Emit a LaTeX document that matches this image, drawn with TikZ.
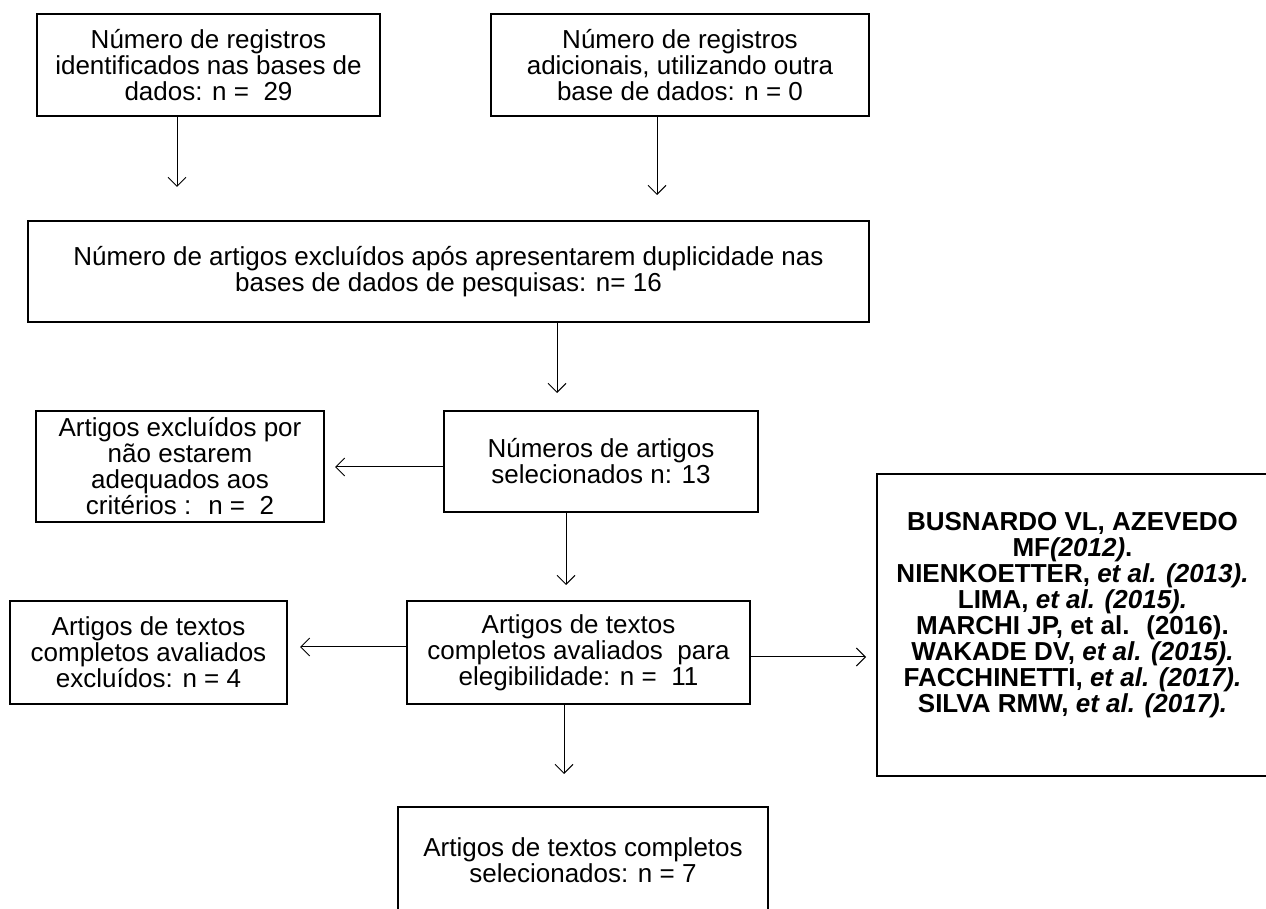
\documentclass[tikz,border=0pt]{standalone}
\usepackage{fontspec}
\setmainfont{Liberation Sans}
\usetikzlibrary{positioning,arrows.meta}
\tikzset{
  flow/.style={-{Straight Barb[length=4.5pt,width=9pt]},line width=0.5pt,draw=black},
  box/.style={draw=black,line width=1pt,align=center,inner sep=0pt,
    font=\fontsize{13}{13}\selectfont},
  refbox/.style={box,font=\fontsize{13}{13}\selectfont\bfseries}
}
\begin{document}
\begin{tikzpicture}[x=0.5pt,y=-0.5pt]
  \useasboundingbox (0,0) rectangle (1266,909);
  % identification
  \node[box,minimum width=171.5pt,minimum height=51pt] (reg1) at (208.5,65) {
    Número de registros\\
    identificados nas bases de\\
    dados: n =~ 29
  };
  \node[box,minimum width=189pt,minimum height=51pt] (reg2) at (680,65) {
    Número de registros\\
    adicionais, utilizando outra\\
    base de dados: n = 0
  };
  \node[box,minimum width=420.5pt,minimum height=50.5pt] (dup) at (448.5,271.5) {
    Número de artigos excluídos após apresentarem duplicidade nas\\
    bases de dados de pesquisas: n= 16
  };
  % screening
  \node[box,minimum width=157pt,minimum height=50.5pt] (sel) at (601,461.5) {
    Números de artigos\\
    selecionados n: 13
  };
  \node[box,minimum width=144pt,minimum height=55.5pt] (exc2) at (180,466.5) {
    Artigos excluídos por\\
    não estarem\\
    adequados aos\\
    critérios :~ n =~ 2
  };
  % eligibility
  \node[box,minimum width=171.5pt,minimum height=51.5pt] (elig) at (578.5,652.5) {
    Artigos de textos\\
    completos avaliados~ para\\
    elegibilidade: n =~ 11
  };
  \node[box,minimum width=138.5pt,minimum height=51.5pt] (exc4) at (148.5,652.5) {
    Artigos de textos\\
    completos avaliados\\
    excluídos: n = 4
  };
  \node[refbox,minimum width=195.5pt,minimum height=151pt] (refs) at (1072.5,625) {
    BUSNARDO VL, AZEVEDO\\
    MF\textit{(2012)}.\\
    NIENKOETTER, \textit{et al. (2013).}\\
    LIMA, \textit{et al. (2015).}\\
    MARCHI JP, et al.~ (2016).\\
    WAKADE DV, \textit{et al. (2015).}\\
    FACCHINETTI, \textit{et al. (2017).}\\
    SILVA RMW, \textit{et al. (2017).}\\
    \mbox{}
  };
  % included
  \node[box,minimum width=185pt,minimum height=53pt] (final) at (583,860) {
    Artigos de textos completos\\
    selecionados: n = 7
  };
  % arrow ends
  \coordinate (t1) at (177,187);
  \coordinate (t2) at (657,195);
  \coordinate (t3) at (557,393);
  \coordinate (t4) at (335,467);
  \coordinate (t5) at (566,585);
  \coordinate (t6) at (300,647);
  \coordinate (t7) at (866,657);
  \coordinate (t8) at (564,774);
  \draw[flow] (reg1.south -| t1) -- (t1);
  \draw[flow] (reg2.south -| t2) -- (t2);
  \draw[flow] (dup.south -| t3) -- (t3);
  \draw[flow] (sel.west |- t4) -- (t4);
  \draw[flow] (sel.south -| t5) -- (t5);
  \draw[flow] (elig.west |- t6) -- (t6);
  \draw[flow] (elig.east |- t7) -- (t7);
  \draw[flow] (elig.south -| t8) -- (t8);
\end{tikzpicture}
\end{document}
